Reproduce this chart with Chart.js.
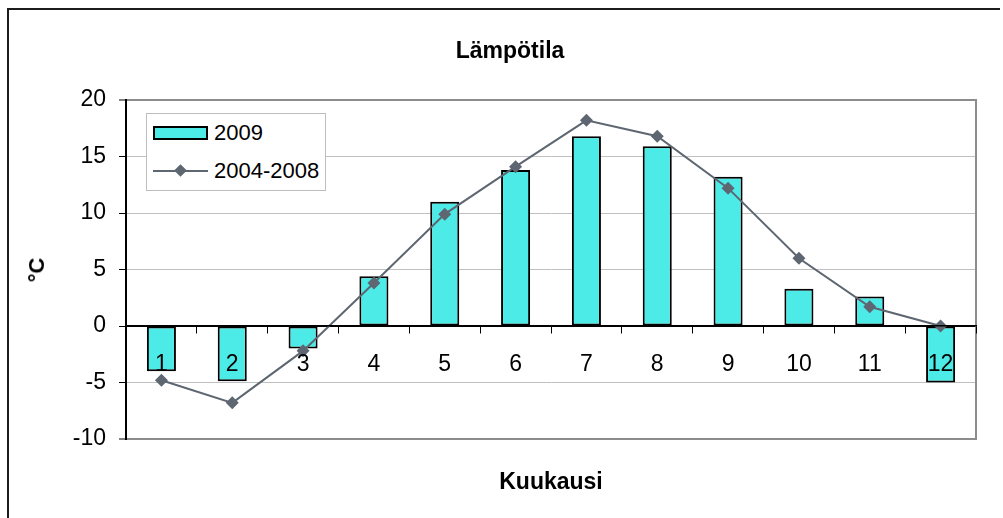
<!DOCTYPE html>
<html>
<head>
<meta charset="utf-8">
<title>Lämpötila</title>
<script src="https://cdn.jsdelivr.net/npm/chart.js@4/dist/chart.umd.min.js"></script>
<style>
  html, body { margin: 0; padding: 0; background: #fff; }
  body { width: 1003px; height: 518px; overflow: hidden; position: relative;
         font-family: "Liberation Sans", Arial, sans-serif; }
  #frame { position: absolute; left: 7px; top: 8px; width: 991px; height: 600px;
           border: 2px solid #1c1c1c; border-right: none; border-bottom: none; }
  #c { position: absolute; left: 0; top: 0; }
  .txt { position: absolute; font-weight: bold; font-size: 23px; color: #000; white-space: nowrap; }
  #title  { left: 510px; top: 50px;  transform: translate(-50%, -50%); }
  #xtitle { left: 551px; top: 481px; transform: translate(-50%, -50%); }
  #ytitle { left: 37px;  top: 270px; font-size: 22px; transform: translate(-50%, -50%) rotate(-90deg); }
  #legend { position: absolute; left: 146px; top: 113px; width: 178px; height: 76px;
            border: 1px solid #bdbdbd; background: #fff; }
  .row { position: absolute; left: 0; width: 100%; height: 0; }
  .lab { position: absolute; left: 67px; top: 0; transform: translateY(-50%);
         font-size: 22px; color: #000; white-space: nowrap; line-height: 1; }
  .swBar { position: absolute; left: 6px; top: -7px; width: 55px; height: 14px;
           box-sizing: border-box; border: 2px solid #000; }
  .swLine { position: absolute; left: 6px; top: -1px; width: 55px; height: 2px; }
  .swPt { position: absolute; left: 29px; top: -5px; width: 9px; height: 9px; transform: rotate(45deg); }
</style>
</head>
<body>
<div id="frame"></div>
<canvas id="c" width="1003" height="518"></canvas>
<div id="title" class="txt">Lämpötila</div>
<div id="ytitle" class="txt">°C</div>
<div id="xtitle" class="txt">Kuukausi</div>
<div id="legend"></div>
<script>
// Months of the year
const months = ['1', '2', '3', '4', '5', '6', '7', '8', '9', '10', '11', '12'];
// Monthly mean temperature, 2009 (°C)
const temp2009 = [-4.0, -4.9, -2.0, 4.4, 11.0, 13.8, 16.8, 15.9, 13.2, 3.3, 2.6, -5.0];
// Monthly mean temperature, average of 2004-2008 (°C)
const temp2004_2008 = [-4.8, -6.8, -2.2, 3.8, 9.9, 14.1, 18.2, 16.8, 12.2, 6.0, 1.7, 0.0];
// Value axis ticks
const yTicks = [-10, -5, 0, 5, 10, 15, 20];
// Series names
const seriesNames = ['2009', '2004-2008'];

const BAR_FILL = '#4cebe8';
const LINE_COL = '#5d6671';
const FONT = '"Liberation Sans", Arial, sans-serif';
Chart.defaults.font.family = FONT;

// Right-hand edge of the plot area
const plotFrame = {
  id: 'plotFrame',
  beforeDatasetsDraw(chart) {
    const { ctx, chartArea: { top, bottom, right } } = chart;
    ctx.save();
    ctx.strokeStyle = '#8c8c8c';
    ctx.lineWidth = 2;
    ctx.beginPath();
    ctx.moveTo(right, top - 1);
    ctx.lineTo(right, bottom + 1);
    ctx.stroke();
    ctx.restore();
  }
};

const yMin = yTicks[0], yMax = yTicks[yTicks.length - 1];

new Chart(document.getElementById('c'), {
  data: {
    labels: months,
    datasets: [
      {
        type: 'line',
        label: seriesNames[1],
        data: temp2004_2008,
        borderColor: LINE_COL,
        backgroundColor: LINE_COL,
        borderWidth: 2,
        pointStyle: 'rectRot',
        pointRadius: 6.5,
        pointBorderWidth: 0,
        pointBackgroundColor: LINE_COL,
        tension: 0,
        order: 0
      },
      {
        type: 'bar',
        label: seriesNames[0],
        data: temp2009,
        backgroundColor: BAR_FILL,
        borderColor: '#000',
        borderWidth: 2,
        borderSkipped: false,
        barPercentage: 0.41,
        categoryPercentage: 1,
        order: 1
      }
    ]
  },
  options: {
    responsive: false,
    animation: false,
    events: [],
    layout: { padding: { left: 20, right: 27, top: 100, bottom: 79 } },
    plugins: { legend: { display: false }, title: { display: false }, tooltip: { enabled: false } },
    scales: {
      x: {
        type: 'category',
        position: { y: 0 },
        offset: true,
        grid: { offset: true, drawOnChartArea: false, drawTicks: true, tickLength: 7, color: '#000', lineWidth: 1, z: 1 },
        border: { display: true, color: '#000', width: 1.5, z: 1 },
        ticks: { color: '#000', font: { size: 23 }, padding: 18, maxRotation: 0, autoSkip: false, z: 1 },
        afterFit(s) { s.paddingLeft = 0; s.paddingRight = 0; }
      },
      y: {
        min: yMin,
        max: yMax,
        afterFit(s) { s.width = 106; s.paddingTop = 0; s.paddingBottom = 0; },
        afterBuildTicks(s) { s.ticks = yTicks.map(v => ({ value: v })); },
        ticks: { color: '#000', font: { size: 23 }, padding: 13 },
        grid: {
          color: c => (c.tick && (c.tick.value === yMin || c.tick.value === yMax)) ? '#8c8c8c'
                    : (c.tick && c.tick.value === 0 ? '#000' : '#c0c0c0'),
          lineWidth: c => (c.tick && (c.tick.value === yMin || c.tick.value === yMax)) ? 2 : 1,
          tickColor: '#000',
          tickWidth: 1,
          tickLength: 7,
          drawTicks: true
        },
        border: { color: '#000', width: 2 }
      }
    }
  },
  plugins: [plotFrame]
});

// Legend box
const legend = document.getElementById('legend');
const rows = [
  { name: seriesNames[0], kind: 'bar', y: 19 },
  { name: seriesNames[1], kind: 'line', y: 57 }
];
rows.forEach(r => {
  const row = document.createElement('div');
  row.className = 'row';
  row.style.top = r.y + 'px';
  if (r.kind === 'bar') {
    const sw = document.createElement('div');
    sw.className = 'swBar';
    sw.style.background = BAR_FILL;
    row.appendChild(sw);
  } else {
    const ln = document.createElement('div');
    ln.className = 'swLine';
    ln.style.background = LINE_COL;
    const pt = document.createElement('div');
    pt.className = 'swPt';
    pt.style.background = LINE_COL;
    row.appendChild(ln);
    row.appendChild(pt);
  }
  const lab = document.createElement('div');
  lab.className = 'lab';
  lab.textContent = r.name;
  row.appendChild(lab);
  legend.appendChild(row);
});
</script>
</body>
</html>
